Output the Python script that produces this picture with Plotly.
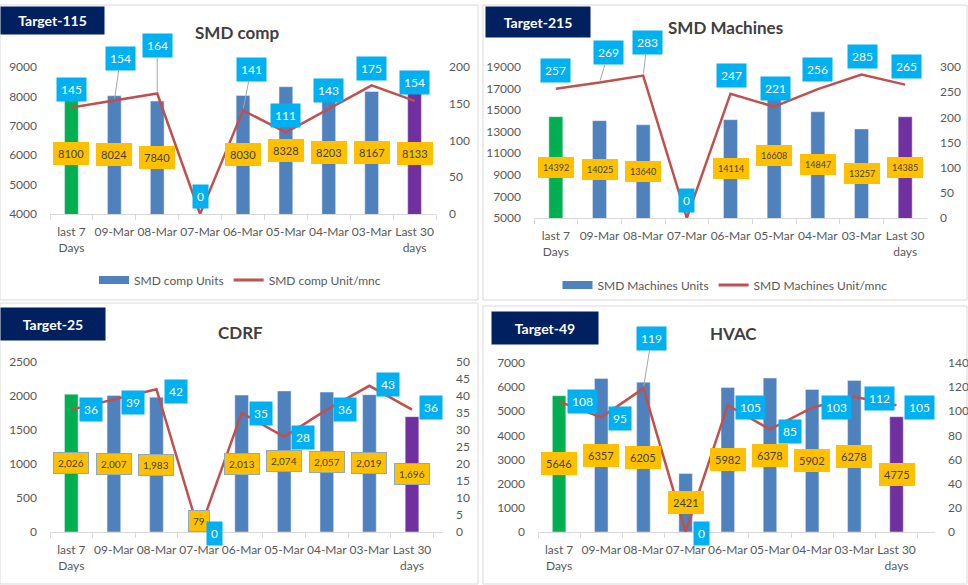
import plotly.graph_objects as go

# categorias (eixo x comum aos 4 paineis)
categories = ["last 7<br>Days", "09-Mar", "08-Mar", "07-Mar", "06-Mar",
              "05-Mar", "04-Mar", "03-Mar", "Last 30<br>days"]

smd_comp_units = [8100, 8024, 7840, None, 8030, 8328, 8203, 8167, 8133]
smd_comp_rate = [145, 154, 164, 0, 141, 111, 143, 175, 154]

smd_mach_units = [14392, 14025, 13640, None, 14114, 16608, 14847, 13257, 14385]
smd_mach_rate = [257, 269, 283, 0, 247, 221, 256, 285, 265]

cdrf_units = [2026, 2007, 1983, 79, 2013, 2074, 2057, 2019, 1696]
cdrf_rate = [36, 39, 42, 0, 35, 28, 36, 43, 36]

hvac_units = [5646, 6357, 6205, 2421, 5982, 6378, 5902, 6278, 4775]
hvac_rate = [108, 95, 119, 0, 105, 85, 103, 112, 105]

FONT = "Lato"
GREY = "#595959"
BLUE = "#4F81BD"
bar_colors = ["#00B050"] + [BLUE] * 7 + ["#7030A0"]

W, H = 968, 585


def px_x(v):
    return v / W


def px_y(v):
    return 1 - v / H


panels = [
    dict(name="SMD comp", target="Target-115", units=smd_comp_units, rate=smd_comp_rate,
         yr=[4000, 9000], ydt=1000, y2r=[0, 200], y2dt=50,
         dom_x=(50, 436), dom_y=(67, 214), title_xy=(237, 32), target_box=(0, 6, 103, 33),
         legend=(240, 280), comma=False, lab_font=11,
         offs=[(0, -18), (6, -42), (0, -48), (0, -18), (8, -41), (0, -17), (0, -18), (0, -17), (0, -18)],
         leaders=[1, 2, 4]),
    dict(name="SMD Machines", target="Target-215", units=smd_mach_units, rate=smd_mach_rate,
         yr=[5000, 19000], ydt=2000, y2r=[0, 300], y2dt=50,
         dom_x=(534, 927), dom_y=(67, 218), title_xy=(725, 27), target_box=(485, 6, 589, 36),
         legend=(725, 285), comma=False, lab_font=9,
         offs=[(0, -18), (9, -30), (4, -33), (0, -18), (1, -18), (1, -18), (0, -20), (1, -18), (1, -18)],
         leaders=[1, 2]),
    dict(name="CDRF", target="Target-25", units=cdrf_units, rate=cdrf_rate,
         yr=[0, 2500], ydt=500, y2r=[0, 50], y2dt=5,
         dom_x=(50, 443), dom_y=(362, 532), title_xy=(240, 332), target_box=(0, 307, 104, 339),
         legend=None, comma=True, lab_font=10,
         offs=[(20, 0), (19, 3), (20, 2), (15, 1), (19, 0), (19, 1), (18, 0), (19, -1), (19, -2)],
         leaders=[]),
    dict(name="HVAC", target="Target-49", units=hvac_units, rate=hvac_rate,
         yr=[0, 7000], ydt=1000, y2r=[0, 140], y2dt=20,
         dom_x=(538, 935), dom_y=(363, 532), title_xy=(733, 333), target_box=(491, 311, 597, 343),
         legend=None, comma=False, lab_font=11,
         offs=[(23, 0), (19, 1), (8, -50), (16, 1), (23, 2), (20, 2), (24, 0), (25, 2), (23, 2)],
         leaders=[2]),
]

fig = go.Figure()
annotations = []
shapes = []
layout = {}

for i, p in enumerate(panels):
    n = i + 1
    xa = "x" if n == 1 else f"x{n}"
    ya = "y" if n == 1 else f"y{2 * n - 1}"
    ya2 = f"y{2 * n}"
    leg = "legend" if n == 1 else f"legend{n}"

    fig.add_trace(go.Bar(
        x=categories, y=p["units"], xaxis=xa, yaxis=ya,
        marker=dict(color=bar_colors), showlegend=False, hoverinfo="skip"
    ))
    fig.add_trace(go.Scatter(
        x=categories, y=p["rate"], xaxis=xa, yaxis=ya2, mode="lines",
        line=dict(color="#C0504D", width=2.5), cliponaxis=False,
        showlegend=False, hoverinfo="skip"
    ))

    if p["legend"]:
        fig.add_trace(go.Scatter(x=[None], y=[None], xaxis=xa, yaxis=ya, mode="lines",
                                 line=dict(color=BLUE, width=8), name=f"{p['name']} Units",
                                 legend=leg))
        fig.add_trace(go.Scatter(x=[None], y=[None], xaxis=xa, yaxis=ya, mode="lines",
                                 line=dict(color="#C0504D", width=3), name=f"{p['name']} Unit/mnc",
                                 legend=leg))
        layout[leg] = dict(
            orientation="h", x=px_x(p["legend"][0]), y=px_y(p["legend"][1]),
            xanchor="center", yanchor="middle", bgcolor="rgba(0,0,0,0)",
            font=dict(family=FONT, size=12, color=GREY), itemwidth=30
        )

    xk = "xaxis" if n == 1 else f"xaxis{n}"
    yk = "yaxis" if n == 1 else f"yaxis{2 * n - 1}"
    yk2 = f"yaxis{2 * n}"
    layout[xk] = dict(
        domain=[px_x(p["dom_x"][0]), px_x(p["dom_x"][1])], anchor=ya, type="category",
        showline=True, linecolor="#D9D9D9", ticks="outside", tickson="boundaries",
        tickcolor="#D9D9D9", ticklen=5, showgrid=False, tickangle=0, automargin=False,
        ticklabelstandoff=7, tickfont=dict(family=FONT, size=12, color=GREY)
    )
    layout[yk] = dict(
        domain=[px_y(p["dom_y"][1]), px_y(p["dom_y"][0])], anchor=xa,
        range=p["yr"], tick0=p["yr"][0], dtick=p["ydt"], tickformat="d",
        showgrid=False, zeroline=False, automargin=False,
        ticklabelstandoff=12, tickfont=dict(family=FONT, size=12, color=GREY)
    )
    layout[yk2] = dict(
        overlaying=ya, side="right", anchor=xa,
        range=p["y2r"], tick0=0, dtick=p["y2dt"], tickformat="d",
        showgrid=False, zeroline=False, automargin=False,
        ticklabelstandoff=12, tickfont=dict(family=FONT, size=12, color=GREY)
    )

    # rotulos das barras (caixas amarelas)
    for c, v in zip(categories, p["units"]):
        if v is None:
            continue
        ymid = (p["yr"][0] + v) / 2
        txt = f"{v:,}" if p["comma"] else str(v)
        annotations.append(dict(
            x=c, y=ymid, xref=xa, yref=ya, text=txt, showarrow=False,
            yshift=8 if v < 200 else 0,
            bgcolor="#FFC000", borderpad=4,
            bordercolor="#8EA9C1" if p["comma"] else "#FFC000",
            font=dict(family=FONT, size=p["lab_font"], color="#404040")
        ))

    # rotulos da linha (caixas azuis)
    for k, (c, v) in enumerate(zip(categories, p["rate"])):
        dx, dy = p["offs"][k]
        annotations.append(dict(
            x=c, y=v, xref=xa, yref=ya2, text=str(v), showarrow=True,
            ax=dx, ay=dy, arrowhead=0, arrowwidth=1, standoff=2,
            arrowcolor="#A6A6A6" if k in p["leaders"] else "rgba(0,0,0,0)",
            bgcolor="#00B0F0", borderpad=4,
            font=dict(family=FONT, size=12, color="white")
        ))

    # titulo e caixa de meta
    annotations.append(dict(
        x=px_x(p["title_xy"][0]), y=px_y(p["title_xy"][1]), xref="paper", yref="paper",
        text=f"<b>{p['name']}</b>", showarrow=False, xanchor="center", yanchor="middle",
        font=dict(family=FONT, size=17, color="#404040")
    ))
    x0, y0, x1, y1 = p["target_box"]
    annotations.append(dict(
        x=px_x(x0), y=px_y(y0), xref="paper", yref="paper", xanchor="left", yanchor="top",
        text=f"<b>{p['target']}</b>", showarrow=False, width=x1 - x0 - 2, height=y1 - y0 - 2,
        bgcolor="#002060", borderpad=1, font=dict(family=FONT, size=14, color="white")
    ))

# bordas dos paineis
for x0, y0, x1, y1 in [(0, 5, 478, 300), (483, 5, 967, 300), (0, 303, 478, 584), (483, 306, 967, 584)]:
    shapes.append(dict(type="rect", xref="paper", yref="paper",
                       x0=px_x(x0), x1=px_x(x1), y0=px_y(y1), y1=px_y(y0),
                       line=dict(color="#D9D9D9", width=1), layer="below"))

fig.update_layout(
    width=W, height=H, margin=dict(l=0, r=0, t=0, b=0, autoexpand=False),
    paper_bgcolor="white", plot_bgcolor="white",
    bargap=0.68, annotations=annotations, shapes=shapes,
    font=dict(family=FONT, color=GREY),
    **layout
)

# tira a margem padrao do <body> para o grafico comecar no canto
fig.write_html("out.html", config={"displayModeBar": False},
               post_script="document.body.style.margin = '0';")
